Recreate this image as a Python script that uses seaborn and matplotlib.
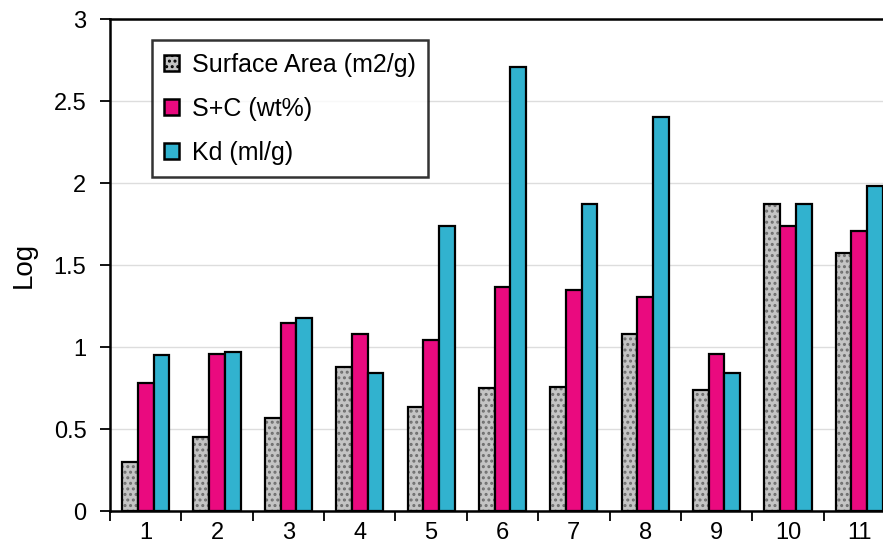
import numpy as np
import pandas as pd
import matplotlib
matplotlib.use('Agg')
import matplotlib.pyplot as plt
import matplotlib.colors as mcolors
import seaborn as sns

samples = ['1', '2', '3', '4', '5', '6', '7', '8', '9', '10', '11']
surface_area = [0.30, 0.45, 0.565, 0.88, 0.635, 0.75, 0.755, 1.08, 0.74, 1.87, 1.575]
s_plus_c = [0.78, 0.955, 1.145, 1.08, 1.045, 1.365, 1.345, 1.305, 0.955, 1.735, 1.705]
kd = [0.95, 0.97, 1.175, 0.84, 1.735, 2.71, 1.875, 2.40, 0.84, 1.87, 1.98]
series = ['Surface Area (m2/g)', 'S+C (wt%)', 'Kd (ml/g)']
colors = ['#c4c4c4', '#ea0a7f', '#31b2cf']

df = pd.DataFrame({
    'sample': samples * 3,
    'value': surface_area + s_plus_c + kd,
    'series': [series[0]] * 11 + [series[1]] * 11 + [series[2]] * 11,
})

sns.set_style('white')
plt.rcParams['font.family'] = ['Liberation Sans', 'DejaVu Sans']
plt.rcParams['hatch.linewidth'] = 1.4
plt.rcParams['text.color'] = 'black'
plt.rcParams['axes.labelcolor'] = 'black'
plt.rcParams['xtick.color'] = 'black'
plt.rcParams['ytick.color'] = 'black'

fig = plt.figure(figsize=(8.83, 5.46), dpi=100)
ax = fig.add_axes([110 / 883, 35 / 546, 785 / 883, 492 / 546])

sns.barplot(data=df, x='sample', y='value', hue='series', order=samples,
            hue_order=series, palette=colors, width=0.66, gap=0,
            edgecolor='black', linewidth=1.6, saturation=1, ax=ax, zorder=3)

# speckled look for surface area bars
for p in ax.containers[0]:
    p.set_hatch('...')
    try:
        p.set_hatchcolor('#6e6e6e')
    except AttributeError:
        p._hatch_color = mcolors.to_rgba('#6e6e6e')

ax.set_xlim(-0.5, 10.5)
ax.set_ylim(0, 3)
ax.set_yticks(np.arange(0, 3.01, 0.5))
ax.set_yticklabels(['0', '0.5', '1', '1.5', '2', '2.5', '3'])
ax.yaxis.grid(True, color='#dddddd', linewidth=1, zorder=0)
ax.set_axisbelow(True)

ax.set_xticks(range(11))
ax.set_xticks(np.arange(-0.5, 10.6, 1), minor=True)
ax.tick_params(axis='x', which='major', length=0, labelsize=17, pad=8, labelcolor='black')
ax.tick_params(axis='x', which='minor', length=7, width=1.3, color='black', direction='out')
ax.tick_params(axis='y', length=7, width=1.3, color='black', direction='out', labelsize=17,
               pad=10, labelcolor='black')
ax.xaxis.set_tick_params(bottom=True, which='both')
ax.yaxis.set_tick_params(left=True)

ax.set_xlabel('')
ax.set_ylabel('Log', fontsize=20, labelpad=12, color='black')

for s in ax.spines.values():
    s.set_color('black')
    s.set_linewidth(1.8)
    s.set_visible(True)

leg = ax.legend(loc='upper left', bbox_to_anchor=(0.0535, 0.957), borderaxespad=0,
                fontsize=18, frameon=True, fancybox=False, handlelength=0.6,
                handleheight=0.6, handletextpad=0.5, labelspacing=0.8,
                borderpad=0.5)
leg.get_frame().set_edgecolor('black')
leg.get_frame().set_linewidth(1.8)
for t in leg.get_texts():
    t.set_color('black')
for h in leg.legend_handles:
    h.set_edgecolor('black')
    h.set_linewidth(1.8)
leg.legend_handles[0].set_hatch('...')

fig.savefig('out.png', dpi=100)
